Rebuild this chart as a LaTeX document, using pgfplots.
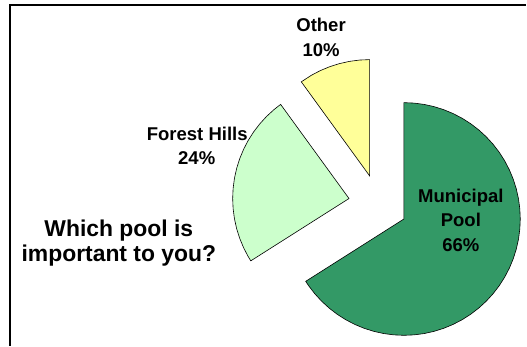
\documentclass[border=0pt]{standalone}
\usepackage{fontspec}
\setmainfont{Liberation Sans}
\usepackage{pgfplots}
\pgfplotsset{compat=1.18}
\definecolor{muni}{HTML}{339966}
\definecolor{forest}{HTML}{CCFFCC}
\definecolor{other}{HTML}{FFFF99}
\tikzset{
  lbl/.style={anchor=base, inner sep=0pt, font=\bfseries\fontsize{18.6}{18.6}\selectfont},
  ttl/.style={anchor=base, inner sep=0pt, font=\bfseries\fontsize{23}{23}\selectfont}}
\begin{document}
\begin{tikzpicture}
\begin{axis}[hide axis, scale only axis, width=527bp, height=346bp,
  xmin=0, xmax=527, ymin=0, ymax=346, clip=false]
\path (axis cs:0,0) rectangle (axis cs:527,346);
\draw[line width=1.5bp] (axis cs:10,0) -- (axis cs:10,341) -- (axis cs:527,341);
% Municipal Pool 66%
\addplot[fill=muni, draw=black, line width=0.6bp, data cs=polar, shift={(404.5bp,126.7bp)}] coordinates {
(0,0) (90,116.5) (85,116.5) (80,116.5) (75,116.5) (70,116.5) (65,116.5) (60,116.5) (55,116.5)
(50,116.5) (45,116.5) (40,116.5) (35,116.5) (30,116.5) (25,116.5) (20,116.5) (15,116.5) (10,116.5)
(5,116.5) (0,116.5) (-5,116.5) (-10,116.5) (-15,116.5) (-20,116.5) (-25,116.5) (-30,116.5)
(-35,116.5) (-40,116.5) (-45,116.5) (-50,116.5) (-55,116.5) (-60,116.5) (-65,116.5) (-70,116.5)
(-75,116.5) (-80,116.5) (-85,116.5) (-90,116.5) (-95,116.5) (-100,116.5) (-105,116.5) (-110,116.5)
(-115,116.5) (-120,116.5) (-125,116.5) (-130,116.5) (-135,116.5) (-140,116.5) (-145,116.5)
(-147.6,116.5) (0,0)} -- cycle;
% Forest Hills 24%
\addplot[fill=forest, draw=black, line width=0.6bp, data cs=polar, shift={(349.5bp,147.2bp)}] coordinates {
(0,0) (212.4,116.5) (210,116.5) (205,116.5) (200,116.5) (195,116.5) (190,116.5) (185,116.5)
(180,116.5) (175,116.5) (170,116.5) (165,116.5) (160,116.5) (155,116.5) (150,116.5) (145,116.5)
(140,116.5) (135,116.5) (130,116.5) (126,116.5) (0,0)} -- cycle;
% Other 10%
\addplot[fill=other, draw=black, line width=0.6bp, data cs=polar, shift={(370.2bp,169.8bp)}] coordinates {
(0,0) (126,116.5) (120,116.5) (115,116.5) (110,116.5) (105,116.5) (100,116.5) (95,116.5) (90,116.5) (0,0)} -- cycle;
% labels
\node[lbl] at (axis cs:321.5,314) {Other};
\node[lbl] at (axis cs:321.5,289.5) {10\%};
\node[lbl] at (axis cs:197.5,205.3) {Forest Hills};
\node[lbl] at (axis cs:197,181) {24\%};
\node[lbl] at (axis cs:461.5,143.5) {Municipal};
\node[lbl] at (axis cs:461.5,119) {Pool};
\node[lbl] at (axis cs:461.5,94.3) {66\%};
\node[ttl] at (axis cs:119,109.3) {Which pool is};
\node[ttl] at (axis cs:119,84.3) {important to you?};
\end{axis}
\end{tikzpicture}
\end{document}
